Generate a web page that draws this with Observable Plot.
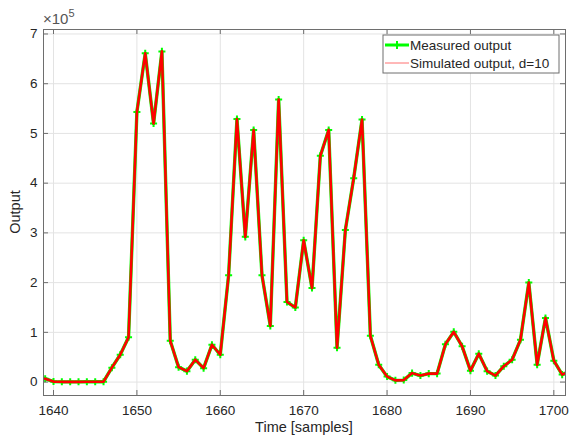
<!DOCTYPE html>
<html>
<head>
<meta charset="utf-8">
<script src="https://cdn.jsdelivr.net/npm/d3@7"></script>
<script src="https://cdn.jsdelivr.net/npm/@observablehq/plot@0.6"></script>
<style>
  html, body { margin: 0; padding: 0; background: #fff; }
  #chart { position: relative; width: 572px; height: 436px; }
</style>
</head>
<body>
<div id="chart"></div>
<script>
const samples = d3.range(1639, 1703);
const measured = [
  6800, 1000, 500, 500, 500, 800, 800, 800, 29000, 55000,
  90000, 543000, 661000, 520000, 665000, 83000, 30000, 22000, 45000, 28000,
  75000, 55000, 215000, 529000, 292000, 507000, 215000, 113000, 568000, 161000,
  150000, 285000, 189000, 455000, 507000, 69000, 306000, 410000, 528000, 93000,
  35000, 11000, 3500, 4000, 18000, 13000, 17000, 17000, 76000, 101000,
  72000, 23000, 57000, 22000, 13000, 32000, 45000, 85000, 200000, 35000,
  129000, 43000, 15000, 22000
];
const simulated = [
  6800, 1000, 500, 500, 500, 800, 800, 800, 29000, 55000,
  90000, 543000, 661000, 520000, 665000, 83000, 30000, 22000, 45000, 28000,
  75000, 55000, 215000, 529000, 292000, 507000, 215000, 113000, 568000, 161000,
  150000, 285000, 189000, 455000, 507000, 69000, 306000, 410000, 528000, 93000,
  35000, 11000, 3500, 4000, 18000, 13000, 17000, 17000, 76000, 101000,
  72000, 23000, 57000, 22000, 13000, 32000, 45000, 85000, 200000, 35000,
  129000, 43000, 15000, 22000
];
const xTicks = [1640, 1650, 1660, 1670, 1680, 1690, 1700];
const yTicks = [0, 100000, 200000, 300000, 400000, 500000, 600000, 700000];
const legendLabels = ["Measured output", "Simulated output, d=10"];

const measData = samples.map((t, i) => ({t, v: measured[i]}));
const simData = samples.map((t, i) => ({t, v: simulated[i]}));

const W = 572, H = 436;
const mL = 43, mR = 7, mT = 29, mB = 41;
const plotH = H - mT - mB;
const plotW = W - mL - mR;
const txt = "#262626";
const axisCol = "#6e6e6e";
const gridCol = "#e3e3e3";
const font = "'Liberation Sans', Arial, sans-serif";

const chart = Plot.plot({
  width: W, height: H,
  marginLeft: mL, marginRight: mR, marginTop: mT, marginBottom: mB,
  style: { fontFamily: font, fontSize: "13px", color: txt, background: "#fff", overflow: "visible" },
  x: { domain: [1638.8, 1701.4], ticks: xTicks },
  y: { domain: [-27000, 709000], ticks: yTicks },
  marks: [
    Plot.gridX(xTicks, { stroke: gridCol, strokeOpacity: 1 }),
    Plot.gridY(yTicks, { stroke: gridCol, strokeOpacity: 1 }),
    Plot.line(measData, { x: "t", y: "v", stroke: "#00ff00", strokeWidth: 3.4, clip: true }),
    Plot.dot(measData, { x: "t", y: "v", symbol: "plus", r: 2.4, fill: "none", stroke: "#00ff00", strokeWidth: 2, clip: true }),
    Plot.line(simData, { x: "t", y: "v", stroke: "#ff0000", strokeWidth: 2.6, clip: true }),
    // inward ticks (MATLAB style), bottom/top/left/right
    Plot.tickX(xTicks, { x: d => d, insetTop: plotH - 5, stroke: axisCol }),
    Plot.tickX(xTicks, { x: d => d, insetBottom: plotH - 5, stroke: axisCol }),
    Plot.tickY(yTicks, { y: d => d, insetRight: plotW - 5, stroke: axisCol }),
    Plot.tickY(yTicks, { y: d => d, insetLeft: plotW - 5, stroke: axisCol }),
    Plot.axisX(xTicks, { tickSize: 0, tickPadding: 10, fontSize: 13.5, fill: txt, label: null, tickFormat: d => String(d) }),
    Plot.axisY(yTicks, { tickSize: 0, tickPadding: 6, fontSize: 13.5, fill: txt, label: null, tickFormat: d => String(d / 1e5) }),
    Plot.frame({ stroke: axisCol, strokeWidth: 1 })
  ]
});

const svg = d3.select(chart);
// axis labels
svg.append("text")
  .attr("x", mL + plotW / 2).attr("y", H - 4)
  .attr("text-anchor", "middle")
  .attr("font-family", font).attr("font-size", 14.5).attr("fill", txt)
  .text("Time [samples]");
svg.append("text")
  .attr("transform", `translate(${20},${mT + plotH / 2}) rotate(-90)`)
  .attr("text-anchor", "middle")
  .attr("font-family", font).attr("font-size", 14.5).attr("fill", txt)
  .text("Output");
// exponent label
const ex = svg.append("text")
  .attr("x", 43).attr("y", 24)
  .attr("text-anchor", "start")
  .attr("font-family", font).attr("font-size", 15).attr("fill", "#555");
ex.append("tspan").text("\u00d710");
ex.append("tspan").attr("dy", -7).attr("font-size", 11).text("5");

// legend
const lg = svg.append("g").attr("transform", "translate(383,35)");
lg.append("rect").attr("width", 176).attr("height", 38)
  .attr("fill", "#fff").attr("stroke", axisCol).attr("stroke-width", 1);
const rows = [
  { y: 10, color: "#00ff00", width: 3, marker: true },
  { y: 28, color: "#ff7070", width: 1, marker: false }
];
rows.forEach((r, i) => {
  lg.append("line").attr("x1", 2).attr("x2", 26).attr("y1", r.y).attr("y2", r.y)
    .attr("stroke", r.color).attr("stroke-width", r.width);
  if (r.marker) {
    lg.append("path").attr("d", d3.symbol(d3.symbolPlus, 24)())
      .attr("transform", `translate(14,${r.y})`).attr("fill", "none")
      .attr("stroke", r.color).attr("stroke-width", 2);
  }
  lg.append("text").attr("x", 27).attr("y", r.y + 4.5)
    .attr("text-anchor", "start")
    .attr("font-family", font).attr("font-size", 13.5).attr("fill", txt)
    .text(legendLabels[i]);
});

document.getElementById("chart").appendChild(chart);
</script>
</body>
</html>
